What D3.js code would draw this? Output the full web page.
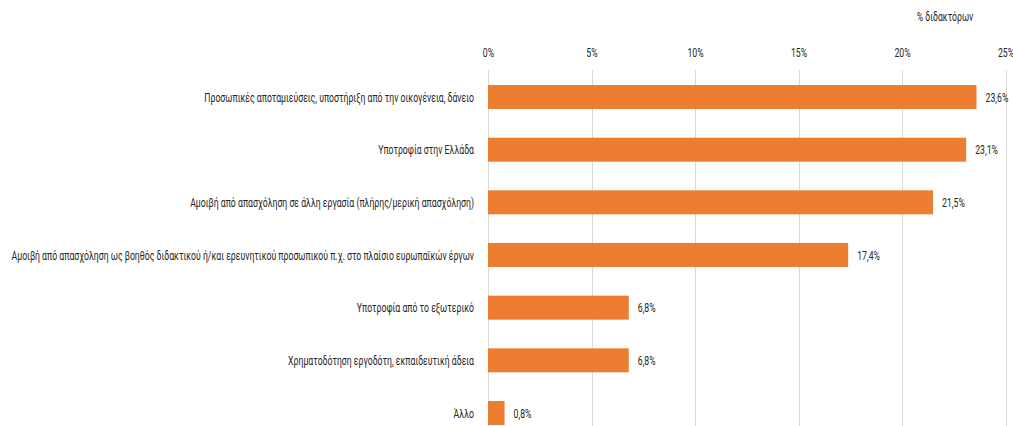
<!DOCTYPE html>
<html><head><meta charset="utf-8">
<script src="https://cdn.jsdelivr.net/npm/d3@7"></script>
<style>
html,body{margin:0;padding:0;background:#fff;}
svg{display:block;font-family:"Roboto","DejaVu Sans",sans-serif;}
</style></head>
<body><svg id="c" width="1013" height="426"></svg>
<script>
const categories = [
  "Προσωπικές αποταμιεύσεις, υποστήριξη από την οικογένεια, δάνειο",
  "Υποτροφία στην Ελλάδα",
  "Αμοιβή από απασχόληση σε άλλη εργασία (πλήρης/μερική απασχόληση)",
  "Αμοιβή από απασχόληση ως βοηθός διδακτικού ή/και ερευνητικού προσωπικού π.χ. στο πλαίσιο ευρωπαϊκών έργων",
  "Υποτροφία από το εξωτερικό",
  "Χρηματοδότηση εργοδότη, εκπαιδευτική άδεια",
  "Άλλο"
];
const values = [23.6, 23.1, 21.5, 17.4, 6.8, 6.8, 0.8];
const tickValues = [0, 5, 10, 15, 20, 25];
const axisTitle = "% διδακτόρων";

const svg = d3.select("#c");
const x = d3.scaleLinear().domain([0, 25]).range([488, 1005.5]);
const y = d3.scalePoint().domain(categories).range([97, 413]);
const barH = 24;
const fs = 13;
const txt = "#262626";
const fmt = v => String(v.toFixed(1)).replace(".", ",") + "%";

// measure to condense the text like the narrow font of the reference
const probe = svg.append("text").attr("font-size", fs).text(categories[3]);
const k = 463 / probe.node().getComputedTextLength();
probe.remove();

// gridlines
svg.append("g").selectAll("line").data(tickValues).join("line")
  .attr("x1", d => Math.round(x(d)) + 0.5).attr("x2", d => Math.round(x(d)) + 0.5)
  .attr("y1", 70).attr("y2", 426)
  .attr("stroke", "#d9d9d9").attr("stroke-width", 1);

// top axis
const ax = svg.append("g").attr("transform", "translate(0,57)")
  .call(d3.axisTop(x).tickValues(tickValues).tickSize(0).tickPadding(0).tickFormat(d => d + "%"));
ax.select(".domain").remove();
ax.attr("font-family", null).attr("font-size", null);
ax.selectAll("text").attr("font-size", fs).attr("fill", txt)
  .attr("transform", `scale(${k},1)`);

// axis title
svg.append("text").attr("transform", `translate(945,21) scale(${k},1)`)
  .attr("text-anchor", "middle")
  .attr("font-size", fs).attr("fill", txt).text(axisTitle);

// bars
svg.append("g").selectAll("rect").data(values).join("rect")
  .attr("x", x(0)).attr("y", (d, i) => y(categories[i]) - barH / 2)
  .attr("width", d => x(d) - x(0)).attr("height", barH)
  .attr("fill", "#ED7D31");

// value labels
svg.append("g").selectAll("text").data(values).join("text")
  .attr("transform", (d, i) => `translate(${x(d) + 9},${y(categories[i])}) scale(${k},1)`)
  .attr("dy", "0.35em").attr("font-size", fs).attr("fill", txt)
  .text(fmt);

// category labels
svg.append("g").selectAll("text").data(categories).join("text")
  .attr("transform", d => `translate(474,${y(d)}) scale(${k},1)`)
  .attr("dy", "0.35em")
  .attr("text-anchor", "end").attr("font-size", fs).attr("fill", txt)
  .text(d => d);
</script></body></html>
